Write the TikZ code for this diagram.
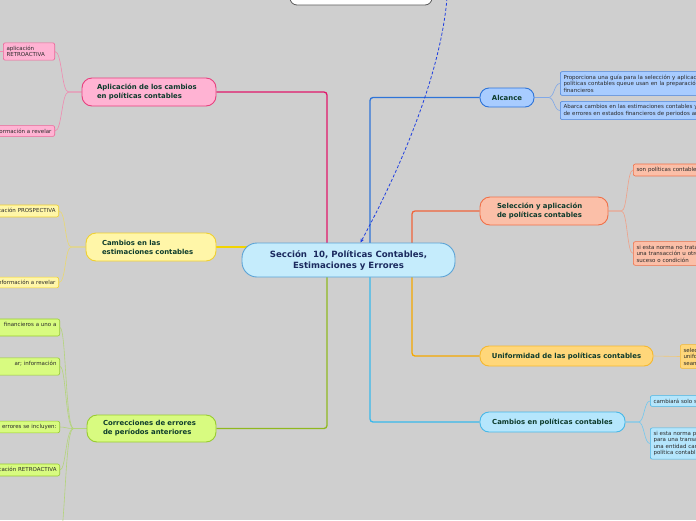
\documentclass[tikz,border=0pt]{standalone}
\usepackage{fontspec}
\setmainfont{DejaVu Sans}
\usetikzlibrary{arrows.meta,calc,backgrounds}

\definecolor{bggray}{HTML}{CFCFCF}
\definecolor{maintext}{HTML}{0D3B2C}
\definecolor{leaftext}{HTML}{2A2A2A}
\definecolor{centfill}{HTML}{C5ECFC}
\definecolor{centdraw}{HTML}{5BA3D6}
\definecolor{centtext}{HTML}{1B2A5E}
\definecolor{pinkline}{HTML}{E0176B}
\definecolor{pinkfill}{HTML}{FFB3D3}
\definecolor{pinkdraw}{HTML}{E8407F}
\definecolor{pinktwig}{HTML}{F08AB0}
\definecolor{yelline}{HTML}{F2D400}
\definecolor{yelfill}{HTML}{FFF6A8}
\definecolor{yeldraw}{HTML}{F0D030}
\definecolor{yeltwig}{HTML}{EAD870}
\definecolor{grnline}{HTML}{90B820}
\definecolor{grnfill}{HTML}{D8FB80}
\definecolor{grndraw}{HTML}{98CC30}
\definecolor{grntwig}{HTML}{B4D47C}
\definecolor{bluline}{HTML}{2E74D8}
\definecolor{blufill}{HTML}{A8CCFF}
\definecolor{bludraw}{HTML}{4A84DC}
\definecolor{blutwig}{HTML}{80A8E8}
\definecolor{orgline}{HTML}{F0643A}
\definecolor{orgfill}{HTML}{FBBFA8}
\definecolor{orgdraw}{HTML}{F07048}
\definecolor{orgtwig}{HTML}{F0A088}
\definecolor{gldline}{HTML}{F5A800}
\definecolor{gldfill}{HTML}{FFD77A}
\definecolor{glddraw}{HTML}{F5B830}
\definecolor{gldtwig}{HTML}{F0C878}
\definecolor{skyline}{HTML}{38B8EC}
\definecolor{skyfill}{HTML}{B5E6FC}
\definecolor{skydraw}{HTML}{48B8E8}
\definecolor{skytwig}{HTML}{70C8F0}
\definecolor{dashblue}{HTML}{2040E0}

\newcommand\centfnt{\fontsize{8.6}{11}\selectfont\bfseries}
\newcommand\mainfnt{\fontsize{6.9}{9}\selectfont\bfseries}
\newcommand\leaffnt{\fontsize{5.5}{6.5}\selectfont}

\begin{document}
\begin{tikzpicture}[
    x=1pt, y=-1pt,
    mainnode/.style={rectangle, rounded corners=10pt, line width=0.9pt, font=\mainfnt, text=maintext, inner ysep=2pt},
    leaf/.style={rectangle, rounded corners=2pt, line width=0.6pt, font=\leaffnt, text=leaftext, inner sep=3.2pt},
    leafL/.style={leaf, anchor=east, align=right, text width=90pt},
    leafR/.style={leaf, anchor=west, align=left, text width=220pt},
    branch/.style={line width=1.3pt, rounded corners=3pt},
    twig/.style={line width=0.6pt}
]
    \useasboundingbox (0,0) rectangle (696,520);

    % centre and top
    \node [rectangle, rounded corners=15pt, line width=0.9pt, fill=centfill, draw=centdraw, text=centtext, font=\centfnt, align=center, minimum width=213pt, minimum height=34pt] (central) at (348.5,260) {Sección\ \ 10, Políticas Contables,\\Estimaciones y Errores};
    \node [rectangle, rounded corners=7pt, line width=0.8pt, fill=white, draw=black!65, minimum width=142pt, minimum height=22pt] (topnode) at (361,-6) {};

    % left branches
    \node [mainnode, fill=pinkfill, draw=pinkdraw, minimum width=134pt, minimum height=28pt, inner xsep=15pt, text width=104pt, align=left] (aplic) at (149,92) {Aplicación de los cambios\\en políticas contables};
    \node [mainnode, fill=yelfill, draw=yeldraw, minimum width=130pt, minimum height=28pt, inner xsep=16pt, text width=98pt, align=left] (estim) at (151,247) {Cambios en las\\estimaciones contables};
    \node [mainnode, fill=grnfill, draw=grndraw, minimum width=129pt, minimum height=27pt, inner xsep=16pt, text width=97pt, align=left] (correc) at (151.5,428.5) {Correcciones de errores\\de períodos anteriores};

    % right branches
    \node [mainnode, fill=blufill, draw=bluline, rounded corners=9pt, minimum width=54pt, minimum height=19pt] (alcance) at (507,97.5) {Alcance};
    \node [mainnode, fill=orgfill, draw=orgdraw, minimum width=128pt, minimum height=28pt, inner xsep=17pt, text width=94pt, align=left] (selec) at (544,211) {Selección y aplicación\\de políticas contables};
    \node [mainnode, fill=gldfill, draw=glddraw, rounded corners=9pt, minimum width=173pt, minimum height=20pt] (unif) at (566.5,356) {Uniformidad de las políticas contables};
    \node [mainnode, fill=skyfill, draw=skydraw, rounded corners=9pt, minimum width=145pt, minimum height=20pt] (cambpol) at (552.5,422) {Cambios en políticas contables};

    % leaves
    \node [leaf, fill=pinkfill, draw=pinkdraw!80, anchor=west, align=left, text width=45pt] (ap1) at (3,51.5) {aplicación\\RETROACTIVA};
    \node [leafL, fill=pinkfill, draw=pinkdraw!80] (ap2) at (55,131) {Información a revelar};
    \coordinate (ap0) at (-10,51.5);
    \node [leafL, fill=yelfill, draw=yeldraw] (es1) at (59,211) {Aplicación PROSPECTIVA};
    \node [leafL, fill=yelfill, draw=yeldraw] (es2) at (59,282.5) {Información a revelar};
    \node [leafL, fill=grnfill, draw=grndraw] (co1) at (60,327.5) {financieros a uno a\hspace*{4.5pt}\\\mbox{}};
    \node [leafL, fill=grnfill, draw=grndraw] (co2) at (60,366.5) {ar; información\hspace*{15.5pt}\\\mbox{}};
    \node [leafL, fill=grnfill, draw=grndraw] (co3) at (60,427) {errores se incluyen:};
    \node [leafL, fill=grnfill, draw=grndraw] (co4) at (60,470) {Aplicación RETROACTIVA};
    \coordinate (co5) at (60,548);

    \node [leafR, fill=blufill, draw=bludraw] (al1) at (560,83.5) {Proporciona una guía para la selección y aplicación\\políticas contables queue usan en la preparación\\financieros};
    \node [leafR, fill=blufill, draw=bludraw] (al2) at (560,110.5) {Abarca cambios en las estimaciones contables y\\de errores en estados financieros de periodos anteriores};
    \node [leafR, fill=orgfill, draw=orgdraw] (se1) at (633,170) {son políticas contables};
    \node [leafR, fill=orgfill, draw=orgdraw] (se2) at (633,253.5) {si esta norma no trata\\una transacción u otro\\suceso o condición};
    \node [leafR, fill=gldfill, draw=glddraw] (un1) at (680,356.5) {seleccionará\\uniforme\\sean};
    \node [leafR, fill=skyfill, draw=skydraw] (cp1) at (650,401) {cambiará solo si};
    \node [leafR, fill=skyfill, draw=skydraw] (cp2) at (650,443.5) {si esta norma permite\\para una transacción\\una entidad cambia\\política contable};

    \begin{scope}[on background layer]
        \fill [bggray] (0,0) rectangle (696,520);
        % branches from the centre
        \draw [branch, pinkline] ([xshift=-21.5pt]central.center) |- (aplic.east);
        \draw [branch, yelline] (central.center |- estim.east) -- (estim.east);
        \draw [branch, grnline] ([xshift=-21.5pt]central.center) |- (correc.east);
        \draw [branch, bluline] ([xshift=21.5pt]central.center) |- (alcance.west);
        \draw [branch, orgline] ([xshift=63.5pt]central.center) |- (selec.west);
        \draw [branch, gldline] ([xshift=63.5pt]central.center) |- (unif.west);
        \draw [branch, skyline] ([xshift=21.5pt]central.center) |- (cambpol.west);

        % twigs to the leaves
        \foreach \lf in {ap1,ap2}
            \draw [twig, pinktwig] (aplic.west) -- ++(-13,0) .. controls +(-7,0) and +(7,0) .. (\lf.east);
        \draw [twig, pinktwig] (ap1.west) -- (ap0);
        \foreach \lf in {es1,es2}
            \draw [twig, yeltwig] (estim.west) -- ++(-14,0) .. controls +(-7,0) and +(7,0) .. (\lf.east);
        \foreach \lf in {co1,co2,co3,co4}
            \draw [twig, grntwig] (correc.west) -- ++(-13,0) .. controls +(-8,0) and +(6,0) .. (\lf.east);
        \draw [twig, grntwig] (correc.west) -- ++(-13,0) .. controls +(-8,0) and +(6,-40) .. (co5);
        \foreach \lf in {al1,al2}
            \draw [twig, blutwig] (alcance.east) -- ++(14,0) .. controls +(6,0) and +(-6,0) .. (\lf.west);
        \foreach \lf in {se1,se2}
            \draw [twig, orgtwig] (selec.east) -- ++(13,0) .. controls +(6,0) and +(-6,0) .. (\lf.west);
        \draw [twig, gldtwig] (unif.east) -- (un1.west);
        \foreach \lf in {cp1,cp2}
            \draw [twig, skytwig] (cambpol.east) -- ++(13,0) .. controls +(6,0) and +(-6,0) .. (\lf.west);
    \end{scope}

    % dashed link from the top
    \coordinate (dstart) at (447,-2);
    \draw [dashblue, line width=0.8pt, dash pattern=on 3pt off 2pt, -{Stealth[length=4pt,width=3.5pt]}] (dstart) .. controls (441,70) and (405,160) .. ([xshift=12pt]central.north);
\end{tikzpicture}
\end{document}
